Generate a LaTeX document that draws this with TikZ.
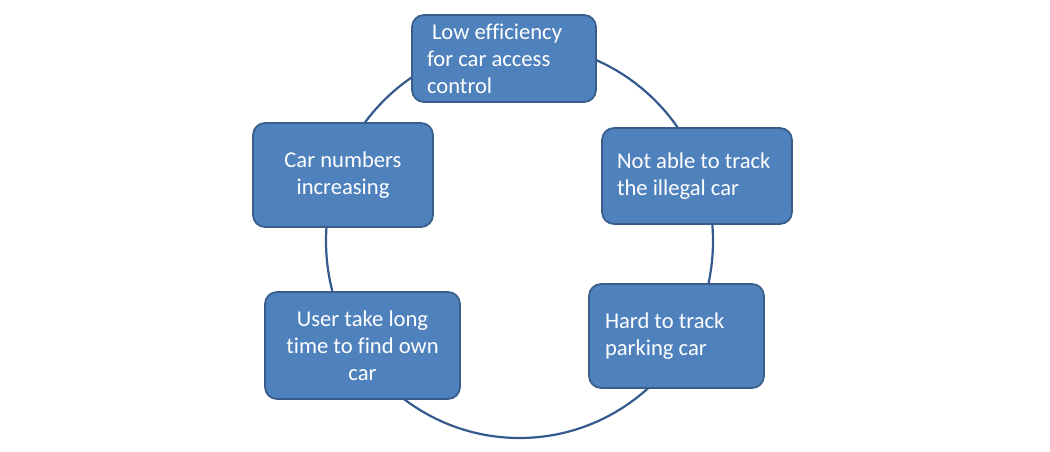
\documentclass[tikz,border=0pt]{standalone}
\usepackage{fontspec}
\setmainfont{Carlito}[Ligatures={NoCommon}]
\definecolor{boxfill}{HTML}{4F81BD}
\definecolor{boxborder}{HTML}{385D8A}
\definecolor{ringcol}{HTML}{34598C}
\tikzset{
  cyclebox/.style={draw=boxborder, fill=boxfill, line width=1.7pt, rounded corners=12pt,
    text=white, font=\fontsize{22.6}{27}\selectfont, inner sep=0pt},
  ring/.style={draw=ringcol, line width=2.2pt}
}
\begin{document}
\begin{tikzpicture}[x=1pt,y=-1pt]
\useasboundingbox (0,0) rectangle (1050,452);
\coordinate (c) at (519.5,241);
\draw[ring] (c) ellipse [x radius=193.5pt, y radius=197pt];
\node[cyclebox, align=flush left, text width=154pt, inner xsep=15pt, minimum height=87pt]
  (b1) at (504,58.5) {\hspace*{5pt}Low efficiency\\for car access\\control};
\node[cyclebox, align=flush left, text width=160pt, inner xsep=15pt, minimum height=96pt]
  (b2) at (697,176) {Not able to track\\the illegal car};
\node[cyclebox, align=flush left, text width=143pt, inner xsep=16pt, minimum height=104pt]
  (b3) at (676.5,336) {Hard to track\\parking car};
\node[cyclebox, align=center, minimum width=195pt, minimum height=107pt]
  (b4) at (362.5,345.5) {User take long\\time to find own\\car};
\node[cyclebox, align=center, minimum width=180pt, minimum height=104pt]
  (b5) at (343,175) {Car numbers\\increasing};
\end{tikzpicture}
\end{document}
